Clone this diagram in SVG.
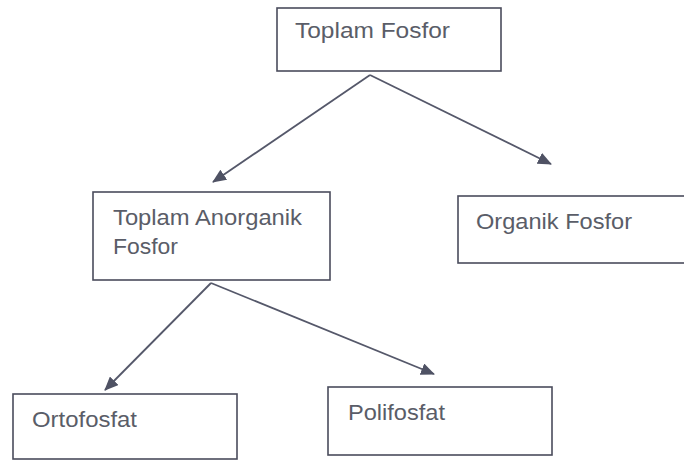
<svg xmlns="http://www.w3.org/2000/svg" width="684" height="461" viewBox="0 0 684 461">
  <style>
    .box { fill: #ffffff; stroke: #4a4c5c; stroke-width: 1.6; }
    .lbl { font-family: "Liberation Sans", Arial, sans-serif; font-size: 22px; fill: #5a5d68; }
    .edge { stroke: #55586a; stroke-width: 1.8; fill: none; marker-end: url(#arr); }
  </style>
  <defs>
    <marker id="arr" viewBox="0 0 14 12" refX="13" refY="6" markerWidth="14" markerHeight="12" markerUnits="userSpaceOnUse" orient="auto">
      <path d="M0,0 L14,6 L0,12 Z" fill="#4f5264"/>
    </marker>
  </defs>
  <rect width="684" height="461" fill="#ffffff"/>

  <g id="connectors">
    <path class="edge" d="M370,75 L213,182"/>
    <path class="edge" d="M370,75 L551,164"/>
    <path class="edge" d="M211,283 L105,390"/>
    <path class="edge" d="M211,283 L434,374"/>
  </g>

  <g id="toplam-fosfor">
    <rect class="box" x="277" y="8" width="224" height="63"/>
    <text class="lbl" x="295" y="38" textLength="155" lengthAdjust="spacingAndGlyphs">Toplam Fosfor</text>
  </g>

  <g id="toplam-anorganik-fosfor">
    <rect class="box" x="93" y="192" width="237" height="88"/>
    <text class="lbl" x="113" y="225" textLength="189" lengthAdjust="spacingAndGlyphs">Toplam Anorganik</text>
    <text class="lbl" x="113" y="254" textLength="65" lengthAdjust="spacingAndGlyphs">Fosfor</text>
  </g>

  <g id="organik-fosfor">
    <rect class="box" x="458" y="196" width="240" height="67"/>
    <text class="lbl" x="476" y="229" textLength="156" lengthAdjust="spacingAndGlyphs">Organik Fosfor</text>
  </g>

  <g id="ortofosfat">
    <rect class="box" x="13" y="394" width="224" height="65"/>
    <text class="lbl" x="32" y="427" textLength="105" lengthAdjust="spacingAndGlyphs">Ortofosfat</text>
  </g>

  <g id="polifosfat">
    <rect class="box" x="328" y="387" width="224" height="68"/>
    <text class="lbl" x="348" y="420" textLength="97" lengthAdjust="spacingAndGlyphs">Polifosfat</text>
  </g>
</svg>
